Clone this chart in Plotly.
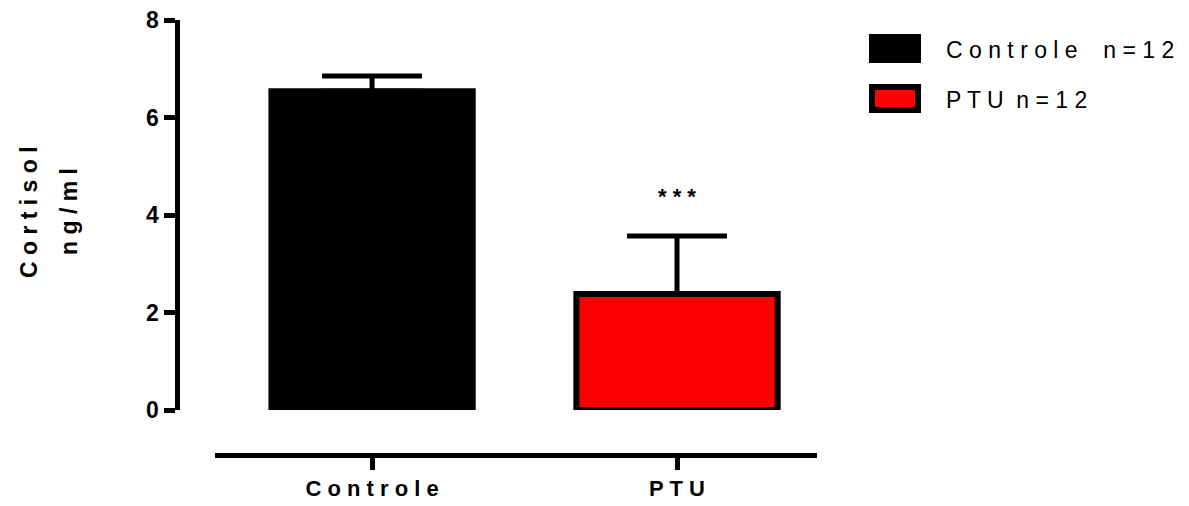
import plotly.graph_objects as go

# ---- data ----
categories = ["Controle", "PTU"]
means = [6.54, 2.38]
sems = [0.31, 1.19]
bar_colors = ["#000000", "#ff0000"]
legend_labels = ["Controle n=12", "PTU n=12"]
y_ticks = [0, 2, 4, 6, 8]
significance = "***"
y_title = ["Cortisol", "ng/ml"]

W, H = 1189, 506
OFF = 8  # page body margin
FONT = "Arial, Liberation Sans, sans-serif"


def spaced(s, word_gap=1):
    words = s.split(" ")
    return ("\u00a0" * word_gap).join(" ".join(list(w)) for w in words)


def px(x):
    return (x - OFF) / W


def py(y):
    return 1 - (y - OFF) / H


fig = go.Figure()
fig.add_trace(go.Bar(
    x=categories,
    y=means,
    width=0.66,
    marker=dict(color=bar_colors, line=dict(color="black", width=6)),
    error_y=dict(type="data", array=sems, arrayminus=[0] * len(sems),
                 symmetric=False, color="black", thickness=5, width=50),
    showlegend=False,
))

annotations = []
# significance stars
annotations.append(dict(x=categories[1], y=means[1] + sems[1] + 0.8, xref="x", yref="y",
                        text=spaced(significance), showarrow=False,
                        font=dict(family=FONT, size=22, color="black", weight="bold"),
                        xanchor="center", yanchor="middle"))
# y-axis title (two lines)
for i, (t, xc) in enumerate(zip(y_title, [29, 69])):
    annotations.append(dict(x=px(xc), y=py(212), xref="paper", yref="paper",
                            text=spaced(t), textangle=-90, showarrow=False,
                            font=dict(family=FONT, size=23, color="black", weight="bold"),
                            xanchor="center", yanchor="middle"))

shapes = []
# legend
for i, (lab, col) in enumerate(zip(legend_labels, bar_colors)):
    top = 37 + i * 50
    shapes.append(dict(type="rect", xref="paper", yref="paper",
                       x0=px(872), x1=px(918), y0=py(top), y1=py(top + 23),
                       fillcolor=col, line=dict(color="black", width=6)))
    annotations.append(dict(x=px(944), y=py(top + 13), xref="paper", yref="paper",
                            text=spaced(lab, 4 if i == 0 else 2), showarrow=False,
                            font=dict(family=FONT, size=23, color="black"),
                            xanchor="left", yanchor="middle"))

fig.update_layout(
    template="none",
    width=W, height=H,
    margin=dict(l=0, r=0, t=0, b=0, autoexpand=False),
    paper_bgcolor="white", plot_bgcolor="white",
    showlegend=False,
    xaxis=dict(
        domain=[px(215), px(817)],
        range=[-0.515, 1.459],
        anchor="free", position=py(455),
        automargin=False,
        showline=True, linecolor="black", linewidth=5,
        ticks="outside", ticklen=12, tickwidth=5, tickcolor="black",
        tickvals=categories, ticktext=[spaced(c) for c in categories],
        tickfont=dict(family=FONT, size=22, color="black", weight="bold"),
        ticklabeloverflow="allow",
        showgrid=False, zeroline=False,
    ),
    yaxis=dict(
        domain=[py(410), py(20)],
        range=[0, 8],
        anchor="free", position=px(176.5),
        automargin=False,
        showline=True, linecolor="black", linewidth=5,
        ticks="outside", ticklen=11, tickwidth=5, tickcolor="black",
        tickvals=y_ticks,
        tickfont=dict(family=FONT, size=23, color="black", weight="bold"),
        ticklabeloverflow="allow",
        showgrid=False, zeroline=False,
    ),
    annotations=annotations,
    shapes=shapes,
)

fig.write_html("out.html")
